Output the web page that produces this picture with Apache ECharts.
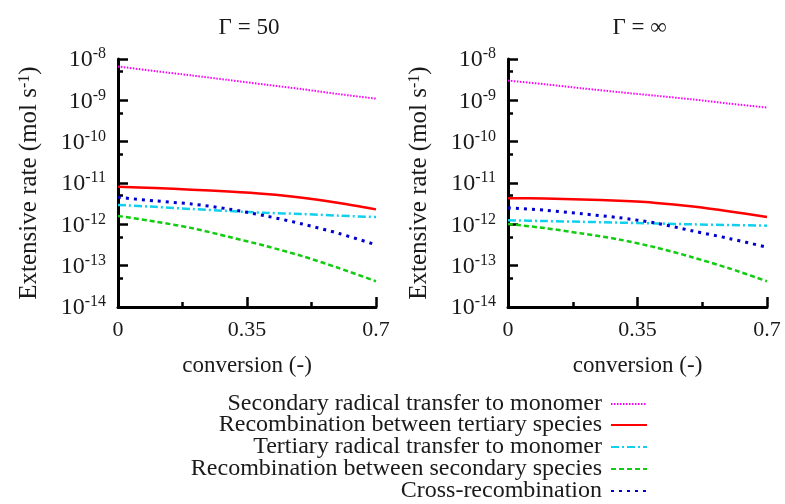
<!DOCTYPE html>
<html>
<head>
<meta charset="utf-8">
<script src="https://cdn.jsdelivr.net/npm/echarts@6/dist/echarts.min.js"></script>
<style>html,body{margin:0;padding:0;background:#fff}#c{width:785px;height:504px}</style>
</head>
<body>
<div id="c"></div>
<script>
// ---- data ----
const conversion = [0, 0.1, 0.2, 0.3, 0.4, 0.5, 0.6, 0.7];
const panelTitles = ['\u0393 = 50', '\u0393 = \u221e'];
const xTicks = [0, 0.35, 0.7];
const seriesNames = [
  'Secondary radical transfer to monomer',
  'Recombination between tertiary species',
  'Tertiary radical transfer to monomer',
  'Recombination between secondary species',
  'Cross-recombination'
];
// Gamma = 50
const g50_secTransfer = [6.6e-9, 5.1e-9, 4.0e-9, 3.1e-9, 2.4e-9, 1.86e-9, 1.41e-9, 1.1e-9];
const g50_recombTert  = [8.1e-12, 7.6e-12, 6.9e-12, 6.2e-12, 5.4e-12, 4.4e-12, 3.3e-12, 2.3e-12];
const g50_tertTransfer= [2.95e-12, 2.65e-12, 2.35e-12, 2.1e-12, 1.9e-12, 1.78e-12, 1.62e-12, 1.5e-12];
const g50_recombSec   = [1.6e-12, 1.17e-12, 8.1e-13, 5.0e-13, 3.0e-13, 1.7e-13, 8.7e-14, 4.2e-14];
const g50_cross       = [4.5e-12, 3.7e-12, 3.1e-12, 2.35e-12, 1.6e-12, 1.02e-12, 6.0e-13, 3.2e-13];
// Gamma = infinity
const ginf_secTransfer= [3.0e-9, 2.45e-9, 1.95e-9, 1.58e-9, 1.29e-9, 1.05e-9, 8.3e-10, 6.7e-10];
const ginf_recombTert = [4.3e-12, 4.2e-12, 4.0e-12, 3.7e-12, 3.3e-12, 2.7e-12, 2.05e-12, 1.5e-12];
const ginf_tertTransfer=[1.26e-12, 1.2e-12, 1.15e-12, 1.1e-12, 1.05e-12, 1.0e-12, 9.6e-13, 9.3e-13];
const ginf_recombSec  = [1.02e-12, 8.1e-13, 6.0e-13, 4.3e-13, 2.75e-13, 1.58e-13, 8.5e-14, 4.2e-14];
const ginf_cross      = [2.5e-12, 2.2e-12, 1.8e-12, 1.45e-12, 1.07e-12, 6.9e-13, 4.5e-13, 2.8e-13];
const yMinorTicks = [5e-9, 5e-10, 5e-11, 5e-12, 5e-13, 5e-14];

// ---- styles ----
const FONT = 'Liberation Serif';
const TXT = '#1a1a1a';
const styles = [
  {color: '#ff00ff', width: 2, type: [1.5, 1.5]},
  {color: '#ff0000', width: 2.5, type: 'solid'},
  {color: '#11d0ee', width: 2.5, type: [8, 3, 2, 3]},
  {color: '#11cc11', width: 2.5, type: [5, 3]},
  {color: '#0000cc', width: 3, type: [3, 5]}
];
const panels = [
  [g50_secTransfer, g50_recombTert, g50_tertTransfer, g50_recombSec, g50_cross],
  [ginf_secTransfer, ginf_recombTert, ginf_tertTransfer, ginf_recombSec, ginf_cross]
];
const grids = [
  {left: 118, top: 59, width: 258, height: 248},
  {left: 508, top: 59, width: 259, height: 248}
];

const xAxes = [], yAxes = [], series = [], titles = [];
grids.forEach((g, i) => {
  titles.push({
    text: panelTitles[i], left: g.left + g.width / 2 - 3, top: 11, textAlign: 'center',
    textStyle: {fontFamily: FONT, fontSize: 23, fontWeight: 'normal', color: TXT}
  });
  xAxes.push({
    type: 'value', gridIndex: i, min: 0, max: 0.7, interval: 0.35,
    name: 'conversion (-)', nameLocation: 'middle', nameGap: 47,
    nameTextStyle: {fontFamily: FONT, fontSize: 23, color: TXT},
    axisLine: {show: true, lineStyle: {color: '#000', width: 3}},
    axisTick: {show: true, inside: true, length: 10, lineStyle: {color: '#000', width: 2.5}},
    minorTick: {show: true, splitNumber: 2, length: 5, lineStyle: {color: '#000', width: 2.5}},
    splitLine: {show: false},
    axisLabel: {fontFamily: FONT, fontSize: 22, color: TXT, margin: 12,
      formatter: v => xTicks.includes(+v.toFixed(2)) ? String(+v.toFixed(2)) : ''}
  });
  yAxes.push({
    type: 'log', logBase: 10, gridIndex: i, min: 1e-14, max: 1e-8,
    name: 'Extensive rate (mol s{s|-1})', nameLocation: 'middle', nameGap: 76, nameRotate: 90,
    nameTextStyle: {fontFamily: FONT, fontSize: 25, color: TXT,
      rich: {s: {fontFamily: FONT, fontSize: 16, color: TXT, verticalAlign: 'top', lineHeight: 14}}},
    axisLine: {show: true, lineStyle: {color: '#000', width: 3}},
    axisTick: {show: true, inside: true, length: 10, lineStyle: {color: '#000', width: 2.5}},
    splitLine: {show: false},
    axisLabel: {
      margin: 12,
      formatter: v => '{b|10}{s|' + Math.round(Math.log10(v)) + '}',
      rich: {
        b: {fontFamily: FONT, fontSize: 24, color: TXT, lineHeight: 26, padding: [2, 0, 0, 0]},
        s: {fontFamily: FONT, fontSize: 16, color: TXT, verticalAlign: 'top', lineHeight: 12}
      }
    }
  });
  // minor ticks axis
  yAxes.push({
    type: 'log', logBase: 10, gridIndex: i, min: 1e-14, max: 1e-8, position: 'left',
    axisLine: {show: false}, splitLine: {show: false}, axisLabel: {show: false},
    axisTick: {show: true, inside: true, length: 5, customValues: yMinorTicks,
      lineStyle: {color: '#000', width: 2.5}}
  });
  panels[i].forEach((arr, k) => {
    series.push({
      name: seriesNames[k], type: 'line', xAxisIndex: i, yAxisIndex: i * 2,
      data: conversion.map((x, j) => [x, arr[j]]),
      smooth: 0.3, symbol: 'none', silent: true, z: 3 + (k === 1 ? 1 : 0),
      lineStyle: {color: styles[k].color, width: styles[k].width, type: styles[k].type},
      itemStyle: {color: styles[k].color}
    });
  });
});

const rowCenters = [404, 425, 447, 469, 491];
const legends = seriesNames.map((n, k) => ({
  data: [n], orient: 'vertical', align: 'right', right: 137, top: rowCenters[k] - 12,
  padding: 0, itemWidth: 36, itemHeight: 10, itemGap: 0, selectedMode: false,
  itemStyle: {color: 'rgba(0,0,0,0)', borderColor: 'rgba(0,0,0,0)', borderWidth: 0},
  textStyle: {fontFamily: FONT, fontSize: 24, color: TXT, lineHeight: 24, padding: [0, 4, 0, 0]}
}));

const chart = echarts.init(document.getElementById('c'), null, {renderer: 'canvas'});
chart.setOption({
  animation: false,
  backgroundColor: '#fff',
  title: titles,
  grid: grids,
  xAxis: xAxes,
  yAxis: yAxes,
  legend: legends,
  series: series
});
</script>
</body>
</html>
